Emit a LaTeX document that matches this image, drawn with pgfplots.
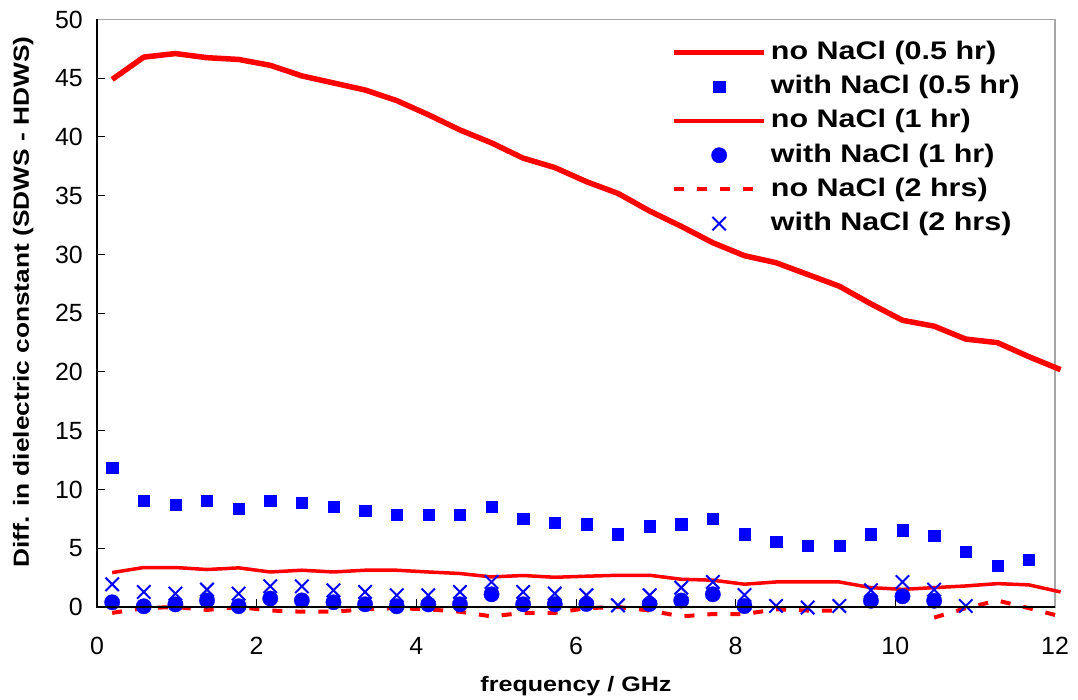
\documentclass[border=0pt]{standalone}
\usepackage{fontspec}
\setmainfont{Liberation Sans}
\newfontfamily\labfont[FakeStretch=1.2]{Liberation Sans}
\usepackage{pgfplots}
\pgfplotsset{compat=1.18}

\begin{document}
\begin{tikzpicture}
\path[use as bounding box] (0,0) rectangle (1078bp,700bp);
\begin{axis}[
  at={(97bp,93bp)}, anchor=south west,
  width=958bp, height=587.5bp, scale only axis,
  xmin=0, xmax=12, ymin=0, ymax=50,
  clip=false,
  xtick={0,2,...,12}, ytick={0,5,...,50},
  tick pos=left, tick align=inside, major tick length=8bp,
  tick style={black, line width=1bp},
  axis line style={draw=gray!70, line width=1.2bp},
  /pgf/number format/assume math mode=true,
  ticklabel style={font=\fontsize{25}{30}\selectfont, inner sep=0pt},
  xticklabel style={anchor=north, yshift=-30bp},
  yticklabel style={anchor=east, xshift=-14bp},
  xlabel={frequency / GHz},
  xlabel style={at={(axis description cs:0.5,-0.143)}, anchor=base, inner sep=0pt, font=\labfont\bfseries\fontsize{21}{25}\selectfont},
  ylabel={Diff. in dielectric constant (SDWS - HDWS)},
  ylabel style={at={(axis description cs:-0.071,0.519)}, anchor=base, inner sep=0pt, font=\labfont\bfseries\fontsize{22}{26}\selectfont},
  legend style={draw=none, fill=none, at={(axis description cs:0.5996,0.9727)}, anchor=north west,
    inner sep=0pt, outer sep=0pt, row sep=0pt, column sep=4bp,
    font=\labfont\bfseries\fontsize{25.5}{30}\selectfont,
    nodes={inner sep=0pt, text height=24bp, text depth=10.2bp}},
  legend cell align=left,
  legend image code/.code={\draw[mark repeat=2,mark phase=2,#1] plot coordinates {(0bp,0bp)(45bp,0bp)(90bp,0bp)};},
  after end axis/.code={\draw[black, line width=1.5bp] (rel axis cs:0,1) -- (rel axis cs:0,0) -- (rel axis cs:1,0);},
]
% no NaCl (0.5 hr)
\addplot[red, line width=5.5bp, line join=round] coordinates {
(0.19,44.9)(0.586,46.8)(0.982,47.1)(1.378,46.75)(1.774,46.6)(2.17,46.1)(2.566,45.2)(2.962,44.6)
(3.358,44.0)(3.754,43.1)(4.15,41.9)(4.546,40.6)(4.942,39.5)(5.338,38.2)(5.734,37.4)(6.13,36.2)
(6.526,35.2)(6.922,33.7)(7.318,32.4)(7.714,31.0)(8.11,29.9)(8.506,29.3)(8.902,28.3)(9.298,27.3)
(9.694,25.8)(10.09,24.4)(10.486,23.9)(10.882,22.8)(11.278,22.5)(11.674,21.3)(12.07,20.2)};
\addlegendentry{no NaCl (0.5 hr)}
% with NaCl (0.5 hr)
\addplot[only marks, mark=square*, mark size=5.6bp, blue, mark options={fill=blue, line width=0.3bp}] coordinates {
(0.19,11.88)(0.586,9.04)(0.982,8.70)(1.378,9.07)(1.774,8.39)(2.17,9.07)(2.566,8.87)(2.962,8.56)
(3.358,8.22)(3.754,7.84)(4.15,7.84)(4.546,7.84)(4.942,8.56)(5.338,7.53)(5.734,7.19)(6.13,7.05)
(6.526,6.20)(6.922,6.88)(7.318,7.05)(7.714,7.53)(8.11,6.20)(8.506,5.54)(8.902,5.20)(9.298,5.20)
(9.694,6.20)(10.09,6.54)(10.486,6.05)(10.882,4.69)(11.278,3.53)(11.674,4.04)};
\addlegendentry{with NaCl (0.5 hr)}
% no NaCl (1 hr)
\addplot[red, line width=3.5bp, line join=round] coordinates {
(0.19,2.93)(0.586,3.36)(0.982,3.36)(1.378,3.19)(1.774,3.33)(2.17,2.98)(2.566,3.13)(2.962,2.98)
(3.358,3.13)(3.754,3.13)(4.15,2.98)(4.546,2.85)(4.942,2.56)(5.338,2.68)(5.734,2.53)(6.13,2.62)
(6.526,2.70)(6.922,2.70)(7.318,2.36)(7.714,2.28)(8.11,1.94)(8.506,2.13)(8.902,2.13)(9.298,2.13)
(9.694,1.65)(10.09,1.50)(10.486,1.65)(10.882,1.79)(11.278,1.99)(11.674,1.88)(12.07,1.28)};
\addlegendentry{no NaCl (1 hr)}
% with NaCl (1 hr)
\addplot[only marks, mark=*, mark size=7.7bp, blue, mark options={fill=blue, line width=0.3bp}] coordinates {
(0.19,0.40)(0.586,0.06)(0.982,0.22)(1.378,0.55)(1.774,0.07)(2.17,0.72)(2.566,0.56)(2.962,0.40)
(3.358,0.23)(3.754,0.06)(4.15,0.22)(4.546,0.23)(4.942,1.08)(5.338,0.23)(5.734,0.23)(6.13,0.26)
(6.922,0.26)(7.318,0.55)(7.714,1.08)(8.11,0.08)
(9.694,0.53)(10.09,0.91)(10.486,0.53)};
\addlegendentry{with NaCl (1 hr)}
% no NaCl (2 hrs)
\addplot[red, line width=4bp, dash pattern=on 10bp off 13bp, restrict y to domain=-1.1:60, unbounded coords=jump] coordinates {
(0.19,-0.5)(0.586,-0.1)(0.982,0.0)(1.378,-0.25)(1.774,0.0)(2.17,-0.3)(2.566,-0.4)(2.962,-0.4)
(3.358,-0.2)(3.754,-0.1)(4.15,-0.2)(4.546,-0.4)(4.942,-0.8)(5.338,-0.5)(5.734,-0.5)(6.13,-0.1)
(6.526,0.0)(6.922,-0.3)(7.318,-0.8)(7.714,-0.6)(8.11,-0.6)(8.506,-0.2)(8.902,-0.3)(9.298,-0.3)
(9.694,-1.6)(10.09,-1.6)(10.486,-0.9)(10.882,-0.1)(11.278,0.55)(11.674,-0.1)(12.07,-0.8)};
\addlegendentry{no NaCl (2 hrs)}
% with NaCl (2 hrs)
\addplot[only marks, mark=x, mark size=9.5bp, blue, mark options={line width=2bp}] coordinates {
(0.19,1.93)(0.586,1.28)(0.982,1.14)(1.378,1.48)(1.774,1.14)(2.17,1.76)(2.566,1.76)(2.962,1.42)
(3.358,1.28)(3.754,1.0)(4.15,1.0)(4.546,1.28)(4.942,2.13)(5.338,1.28)(5.734,1.14)(6.13,1.0)
(6.526,0.14)(6.922,1.0)(7.318,1.65)(7.714,2.13)(8.11,1.02)(8.506,0.09)(8.902,-0.05)(9.298,0.09)
(9.694,1.42)(10.09,2.13)(10.486,1.48)(10.882,0.09)};
\addlegendentry{with NaCl (2 hrs)}
\end{axis}
\end{tikzpicture}
\end{document}
